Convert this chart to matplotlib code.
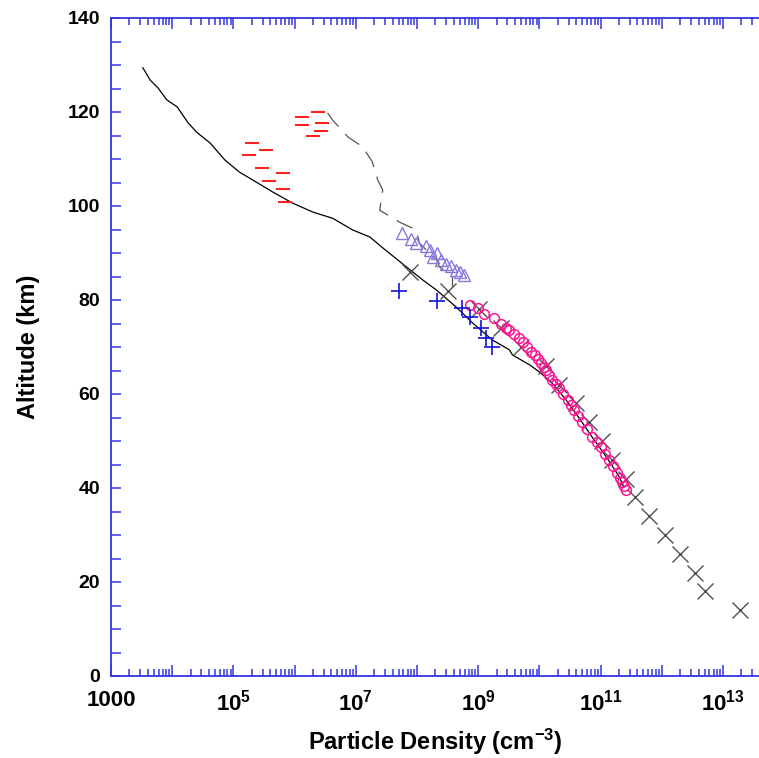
import numpy as np
import matplotlib
matplotlib.use("Agg")
import matplotlib.pyplot as plt
from matplotlib.ticker import FixedLocator, LogLocator, MultipleLocator, NullFormatter

plt.rcParams["font.family"] = ["Liberation Sans", "DejaVu Sans"]
plt.rcParams["font.weight"] = "bold"
plt.rcParams["mathtext.fontset"] = "custom"
plt.rcParams["mathtext.rm"] = "Liberation Sans:bold"
plt.rcParams["mathtext.bf"] = "Liberation Sans:bold"
plt.rcParams["mathtext.default"] = "bf"

# ===== DATA (log10 of density in cm^-3, altitude in km) =====
model_logn = [3.52, 3.64, 3.77, 3.91, 4.08, 4.26, 4.40, 4.62, 4.86, 5.10, 5.32, 5.64,
              5.97, 6.30, 6.62, 6.95, 7.23, 7.44, 7.83, 8.09, 8.32, 8.64, 8.91, 9.23,
              9.51, 9.56, 9.84, 10.00, 10.21, 10.45, 10.67, 10.88, 11.10, 11.30, 11.37]
model_alt = [129.4, 126.8, 125.1, 122.6, 121.1, 117.7, 115.7, 113.4, 109.8, 107.2, 105.5, 103.0,
             100.6, 98.7, 97.4, 94.9, 93.4, 91.1, 87.0, 84.3, 82.1, 78.5, 75.1, 71.5,
             69.4, 68.3, 66.2, 64.7, 62.3, 58.5, 54.5, 50.5, 46.5, 42.5, 40.5]

dashed_logn = [6.54, 6.62, 6.87, 7.11, 7.27, 7.36, 7.44, 7.39, 7.71, 7.99, 8.04, 8.32, 8.37, 8.58, 8.58]
dashed_alt = [119.8, 118.3, 114.7, 112.6, 109.4, 105.5, 103.4, 99.1, 96.6, 94.9, 92.1, 88.5, 87.0, 84.9, 82.8]

std_logn = [7.88, 8.51, 9.02, 9.38, 9.70, 10.11, 10.32, 10.60, 10.81, 11.03, 11.19, 11.42,
            11.56, 11.79, 12.05, 12.30, 12.54, 12.71, 13.28]
std_alt = [86, 82, 78, 74, 70, 66, 62, 58, 54, 50, 46, 42, 38, 34, 30, 26, 22, 18, 14]

circ_logn = [8.86, 8.99, 9.10, 9.26, 9.38, 9.45, 9.51, 9.58, 9.67, 9.73, 9.80, 9.86, 9.92,
             9.97, 10.03, 10.07, 10.11, 10.16, 10.21, 10.27, 10.32, 10.39, 10.46, 10.52,
             10.57, 10.63, 10.70, 10.78, 10.86, 10.94, 11.01, 11.08, 11.14, 11.21, 11.27,
             11.31, 11.35, 11.39, 11.42]
circ_alt = [79.0, 78.3, 77.0, 76.2, 75.0, 74.0, 73.6, 72.8, 71.9, 71.0, 70.0, 69.0, 68.3,
            67.5, 66.6, 65.8, 65.1, 64.0, 63.0, 62.2, 61.3, 60.0, 58.7, 57.6,
            56.6, 55.3, 54.0, 52.5, 50.9, 49.8, 48.7, 47.3, 46.0, 44.6, 43.2,
            42.2, 41.3, 40.5, 39.6]

plus_logn = [7.71, 8.32, 8.74, 8.86, 9.04, 9.13, 9.23]
plus_alt = [81.9, 79.8, 78.3, 76.4, 74.0, 71.9, 70.0]

tri_logn = [7.75, 7.91, 7.98, 8.14, 8.22, 8.32, 8.26, 8.40, 8.48, 8.56, 8.63, 8.71, 8.77]
tri_alt = [94.3, 93.0, 92.1, 91.5, 90.6, 90.0, 89.1, 88.5, 87.7, 87.2, 86.4, 86.0, 85.3]

dash_logn = [5.30, 5.25, 5.54, 5.46, 5.58, 5.81, 5.81, 5.85, 6.12, 6.12, 6.38, 6.44, 6.43, 6.30]
dash_alt = [113.4, 110.9, 111.9, 108.1, 105.3, 107.0, 103.6, 100.9, 118.9, 117.2, 120.0, 117.7, 116.0, 114.9]

# labelled decades
xtick_exp = [3, 5, 7, 9, 11, 13]
xtick_labels = ["1000", "$10^{5}$", "$10^{7}$", "$10^{9}$", "$10^{11}$", "$10^{13}$"]


def dens(v):
    return 10 ** np.array(v)


fig = plt.figure(figsize=(7.59, 7.58), dpi=100)
ax = fig.add_axes([111 / 759, 82 / 758, 1 - 111 / 759, 658 / 758])

ax.plot(dens(model_logn), model_alt, color="black", lw=0.9)
ax.plot(dens(dashed_logn), dashed_alt, color="#555555", lw=0.9, dashes=(14, 8))
ax.plot(dens(std_logn), std_alt, ls="none", marker="x", ms=11, mew=1.0, color="#505050")
ax.plot(dens(circ_logn), circ_alt, ls="none", marker="o", ms=7, mew=1.1,
        mfc="none", mec="#ff1493")
ax.plot(dens(plus_logn), plus_alt, ls="none", marker="+", ms=11, mew=1.2, color="#1010e0")
ax.plot(dens(tri_logn), tri_alt, ls="none", marker="^", ms=8, mew=1.0,
        mfc="none", mec="#8878e0")
ax.plot(dens(dash_logn), dash_alt, ls="none", marker="_", ms=10, mew=1.5, color="#ff2020")

ax.set_xscale("log")
ax.set_xlim(1e3, 10 ** (3 + 648 / 61.2))
ax.set_ylim(0, 140)

# a major tick at every decade, labels only on odd ones
decades = list(range(3, 15))
ax.xaxis.set_major_locator(FixedLocator([10.0 ** e for e in decades]))
ax.set_xticklabels([xtick_labels[xtick_exp.index(e)] if e in xtick_exp else "" for e in decades])
ax.xaxis.set_minor_locator(LogLocator(base=10, subs=np.arange(2, 10), numticks=30))
ax.xaxis.set_minor_formatter(NullFormatter())
ax.yaxis.set_major_locator(MultipleLocator(20))
ax.yaxis.set_minor_locator(MultipleLocator(5))

spine_col = "#3535e0"
for side in ["left", "top", "bottom"]:
    ax.spines[side].set_color(spine_col)
    ax.spines[side].set_linewidth(1.3)
ax.spines["right"].set_visible(False)

ax.tick_params(which="both", direction="in", color=spine_col, top=True, right=False)
ax.tick_params(which="major", length=8, width=1.1)
ax.tick_params(which="minor", length=5, width=1.1)
ax.tick_params(axis="y", which="both", length=7)
ax.tick_params(axis="x", labelsize=16, pad=10)
ax.tick_params(axis="y", labelsize=14, pad=8)
for lab in ax.get_yticklabels() + ax.get_xticklabels():
    lab.set_fontweight("bold")

ax.set_xlabel("Particle Density (cm$^{-3}$)", fontsize=17, fontweight="bold", labelpad=8)
ax.set_ylabel("Altitude (km)", fontsize=17, fontweight="bold", labelpad=20)

fig.savefig("out.png", dpi=100)
